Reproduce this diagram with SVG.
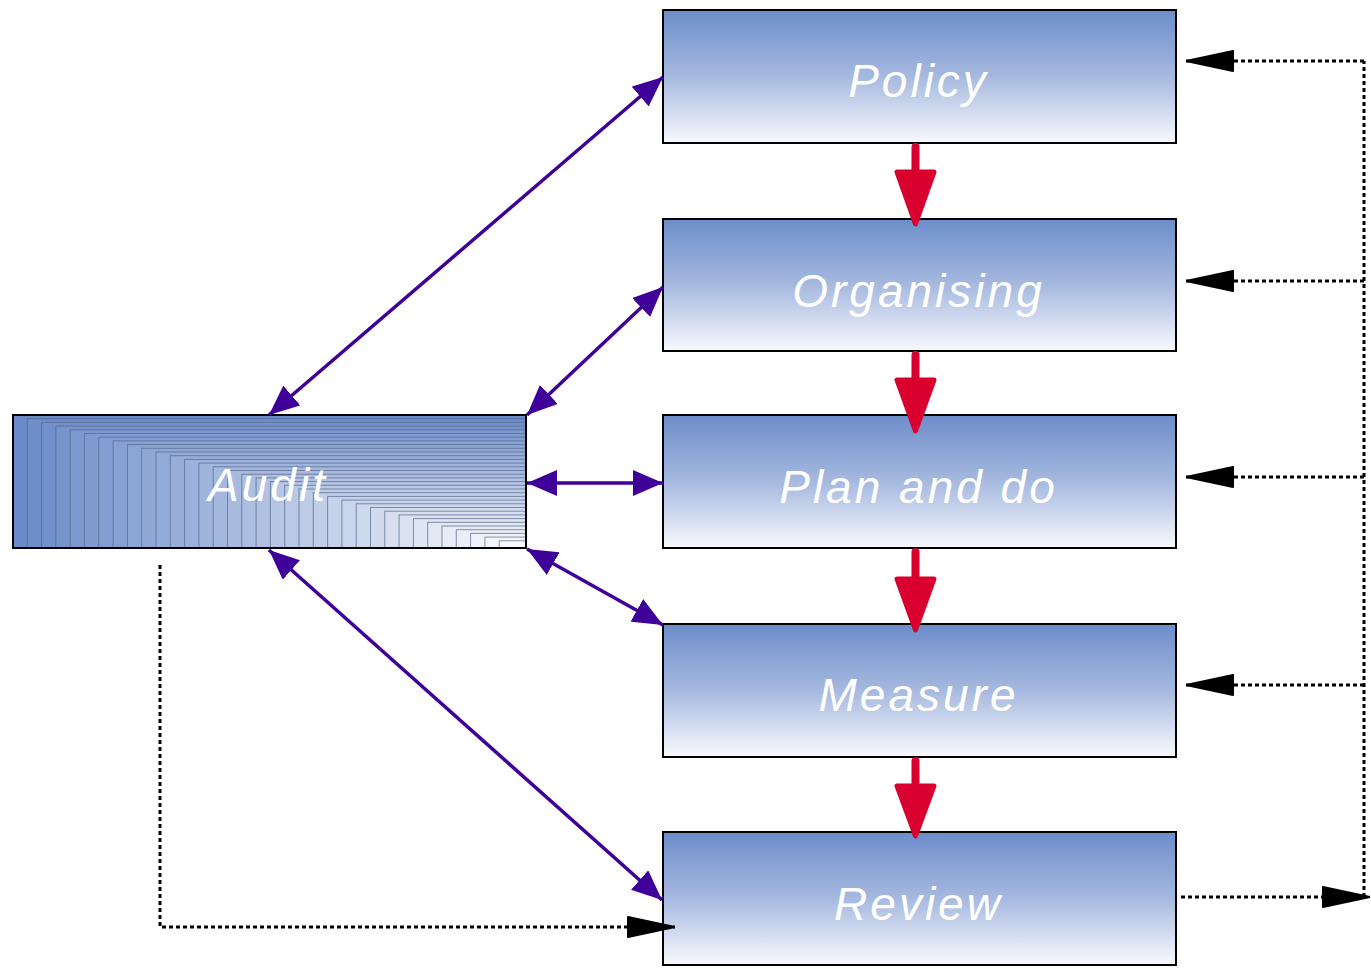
<svg xmlns="http://www.w3.org/2000/svg" width="1371" height="969" viewBox="0 0 1371 969">
<defs>
<linearGradient id="boxGrad" x1="0" y1="0" x2="0" y2="1">
<stop offset="0" stop-color="#6c8dca"/>
<stop offset="0.5" stop-color="#a6b9df"/>
<stop offset="1" stop-color="#f8f9fd"/>
</linearGradient>
<marker id="pHead" viewBox="0 0 30 26" refX="30" refY="13" markerWidth="30" markerHeight="26" markerUnits="userSpaceOnUse" orient="auto-start-reverse">
<path d="M0,0 L30,13 L0,26 z" fill="#3f0099"/>
</marker>
<marker id="kHead" viewBox="0 0 48 22" refX="48" refY="11" markerWidth="48" markerHeight="22" markerUnits="userSpaceOnUse" orient="auto">
<path d="M1,1 L48,11 L1,21 z" fill="#000" stroke="#000" stroke-width="2" stroke-linejoin="round"/>
</marker>
</defs>
<style>
.box{fill:url(#boxGrad);stroke:#000;stroke-width:2}
.lbl{font-family:"Liberation Sans",Arial,sans-serif;font-style:italic;font-size:46px;fill:#fff;text-anchor:middle;letter-spacing:3px}
.st{stroke:#56668a;stroke-opacity:0.7;stroke-width:1}
.purple{fill:none;stroke:#3f0099;stroke-width:3.5;marker-start:url(#pHead);marker-end:url(#pHead)}
.dot{fill:none;stroke:#000;stroke-width:3;stroke-dasharray:4 3}
.red{fill:#d9002f;stroke:#d9002f;stroke-width:5;stroke-linejoin:round}
.redl{stroke:#d9002f;stroke-width:8;stroke-linecap:round}
</style>

<g id="audit">
<rect x="13" y="415" width="513" height="133" fill="#6a8bc9"/>
<rect class="st" x="27.3" y="418.7" width="498.7" height="129.3" fill="#6e8eca"/>
<rect class="st" x="41.6" y="422.4" width="484.4" height="125.6" fill="#7291cc"/>
<rect class="st" x="55.9" y="426.1" width="470.1" height="121.9" fill="#7695cd"/>
<rect class="st" x="70.2" y="429.8" width="455.8" height="118.2" fill="#7b98cf"/>
<rect class="st" x="84.5" y="433.5" width="441.5" height="114.5" fill="#7f9bd0"/>
<rect class="st" x="98.8" y="437.2" width="427.2" height="110.8" fill="#839ed2"/>
<rect class="st" x="113.1" y="440.9" width="412.9" height="107.1" fill="#87a1d3"/>
<rect class="st" x="127.4" y="444.6" width="398.6" height="103.4" fill="#8ba5d5"/>
<rect class="st" x="141.7" y="448.3" width="384.3" height="99.7" fill="#8fa8d6"/>
<rect class="st" x="156" y="452" width="370" height="96" fill="#93abd8"/>
<rect class="st" x="170.3" y="455.7" width="355.7" height="92.3" fill="#98aed9"/>
<rect class="st" x="184.6" y="459.4" width="341.4" height="88.6" fill="#9cb1db"/>
<rect class="st" x="198.9" y="463.1" width="327.1" height="84.9" fill="#a0b5dc"/>
<rect class="st" x="213.2" y="466.8" width="312.8" height="81.2" fill="#a4b8de"/>
<rect class="st" x="227.5" y="470.5" width="298.5" height="77.5" fill="#a8bbdf"/>
<rect class="st" x="241.8" y="474.2" width="284.2" height="73.8" fill="#acbee1"/>
<rect class="st" x="256.1" y="477.9" width="269.9" height="70.1" fill="#b0c1e2"/>
<rect class="st" x="270.4" y="481.6" width="255.6" height="66.4" fill="#b5c5e4"/>
<rect class="st" x="284.7" y="485.3" width="241.3" height="62.7" fill="#b9c8e5"/>
<rect class="st" x="299" y="489" width="227" height="59" fill="#bdcbe7"/>
<rect class="st" x="313.3" y="492.7" width="212.7" height="55.3" fill="#c1cee8"/>
<rect class="st" x="327.6" y="496.4" width="198.4" height="51.6" fill="#c5d2ea"/>
<rect class="st" x="341.9" y="500.1" width="184.1" height="47.9" fill="#c9d5eb"/>
<rect class="st" x="356.2" y="503.8" width="169.8" height="44.2" fill="#cdd8ed"/>
<rect class="st" x="370.5" y="507.5" width="155.5" height="40.5" fill="#d2dbee"/>
<rect class="st" x="384.8" y="511.2" width="141.2" height="36.8" fill="#d6def0"/>
<rect class="st" x="399.1" y="514.9" width="126.9" height="33.1" fill="#dae2f1"/>
<rect class="st" x="413.4" y="518.6" width="112.6" height="29.4" fill="#dee5f3"/>
<rect class="st" x="427.7" y="522.3" width="98.3" height="25.7" fill="#e2e8f4"/>
<rect class="st" x="442" y="526" width="84" height="22" fill="#e6ebf6"/>
<rect class="st" x="456.3" y="529.7" width="69.7" height="18.3" fill="#ebeef7"/>
<rect class="st" x="470.6" y="533.4" width="55.4" height="14.6" fill="#eff2f9"/>
<rect class="st" x="484.9" y="537.1" width="41.1" height="10.9" fill="#f3f5fa"/>
<rect class="st" x="499.2" y="540.8" width="26.8" height="7.2" fill="#f7f8fc"/>
<rect x="13" y="415" width="513" height="133" fill="none" stroke="#000" stroke-width="2"/>
<text class="lbl" x="268" y="501">Audit</text>
</g>

<g id="policy">
<rect class="box" x="663" y="10" width="513" height="133"/>
<text class="lbl" x="918.5" y="97">Policy</text>
</g>
<g id="organising">
<rect class="box" x="663" y="219" width="513" height="132"/>
<text class="lbl" x="918.5" y="307">Organising</text>
</g>
<g id="plananddo">
<rect class="box" x="663" y="415" width="513" height="133"/>
<text class="lbl" x="918.5" y="503">Plan and do</text>
</g>
<g id="measure">
<rect class="box" x="663" y="624" width="513" height="133"/>
<text class="lbl" x="918.5" y="711">Measure</text>
</g>
<g id="review">
<rect class="box" x="663" y="832" width="513" height="133"/>
<text class="lbl" x="918.5" y="920">Review</text>
</g>

<g id="connectors">
<line class="redl" x1="915.5" y1="147" x2="915.5" y2="172"/>
<polygon class="red" points="897,172 934,172 915.5,224"/>
<line class="redl" x1="915.5" y1="355" x2="915.5" y2="380"/>
<polygon class="red" points="897,380 934,380 915.5,431"/>
<line class="redl" x1="915.5" y1="552" x2="915.5" y2="579"/>
<polygon class="red" points="897,579 934,579 915.5,630"/>
<line class="redl" x1="915.5" y1="761" x2="915.5" y2="786"/>
<polygon class="red" points="897,786 934,786 915.5,836"/>

<line class="purple" x1="269" y1="415" x2="663" y2="77"/>
<line class="purple" x1="527" y1="415" x2="663" y2="287"/>
<line class="purple" x1="527" y1="483" x2="663" y2="483"/>
<line class="purple" x1="527" y1="549" x2="663" y2="625"/>
<line class="purple" x1="269" y1="550" x2="662" y2="900"/>

<path class="dot" d="M1181,897 H1370" marker-end="url(#kHead)"/>
<path class="dot" d="M1364,897 V61"/>
<path class="dot" d="M1364,61 H1186" marker-end="url(#kHead)"/>
<path class="dot" d="M1364,281 H1186" marker-end="url(#kHead)"/>
<path class="dot" d="M1364,477 H1186" marker-end="url(#kHead)"/>
<path class="dot" d="M1364,685 H1186" marker-end="url(#kHead)"/>
<path class="dot" d="M160,565 V927 H675" marker-end="url(#kHead)"/>
</g>
</svg>
